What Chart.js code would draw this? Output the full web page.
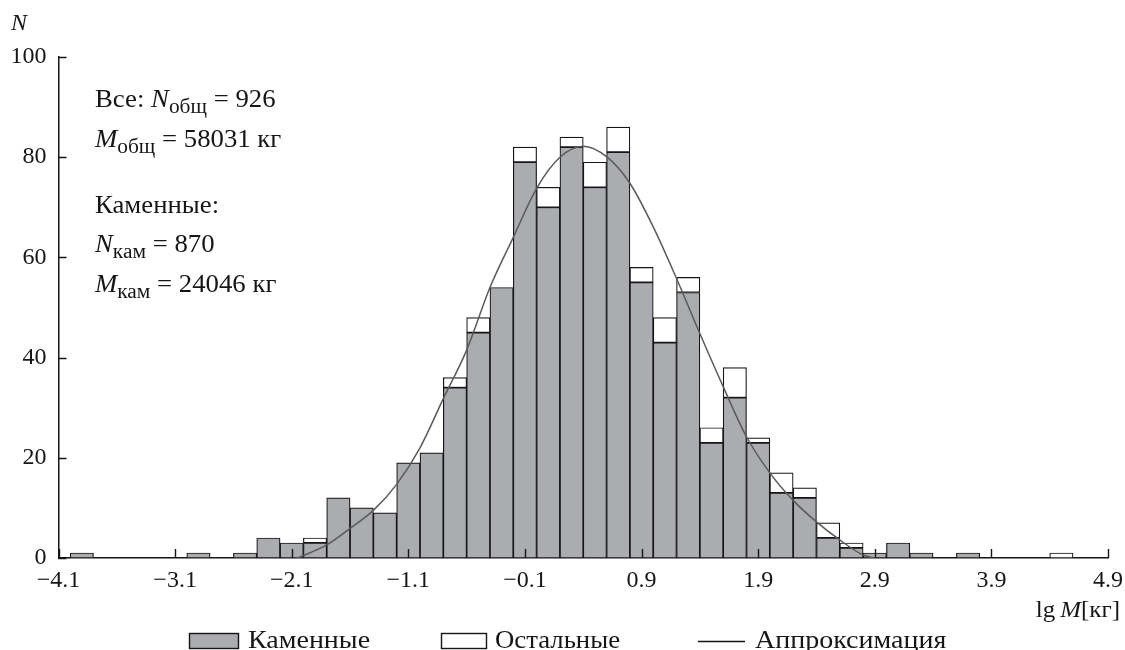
<!DOCTYPE html>
<html>
<head>
<meta charset="utf-8">
<script src="https://cdn.jsdelivr.net/npm/chart.js@4.4.1/dist/chart.umd.min.js"></script>
<style>
  html, body { margin: 0; padding: 0; background: #ffffff; }
  #wrap { position: relative; width: 1125px; height: 650px; }
</style>
</head>
<body>
<div id="wrap"><canvas id="chart" width="1125" height="650"></canvas></div>
<script>
// Histogram of lg M (bin width 0.2), bin centres
const binCenters = [-3.9, -3.7, -3.5, -3.3, -3.1, -2.9, -2.7, -2.5, -2.3, -2.1,
                    -1.9, -1.7, -1.5, -1.3, -1.1, -0.9, -0.7, -0.5, -0.3, -0.1,
                     0.1,  0.3,  0.5,  0.7,  0.9,  1.1,  1.3,  1.5,  1.7,  1.9,
                     2.1,  2.3,  2.5,  2.7,  2.9,  3.1,  3.3,  3.5,  3.7,  3.9,
                     4.1,  4.3,  4.5];
// Stony meteorites per bin
const stonyCounts = [1, 0, 0, 0, 0, 1, 0, 1, 4, 3,
                     3, 12, 10, 9, 19, 21, 34, 45, 54, 79,
                     70, 82, 74, 81, 55, 43, 53, 23, 32, 23,
                     13, 12, 4, 2, 1, 3, 1, 0, 1, 0,
                     0, 0, 0];
// All other types per bin (stacked on top)
const otherCounts = [0, 0, 0, 0, 0, 0, 0, 0, 0, 0,
                     1, 0, 0, 0, 0, 0, 2, 3, 0, 3,
                     4, 2, 5, 5, 3, 5, 3, 3, 6, 1,
                     4, 2, 3, 1, 0, 0, 0, 0, 0, 0,
                     0, 0, 1];
// Fitted curve
const fitX = [-2.05, -1.8, -1.6, -1.4, -1.2, -1.0, -0.8, -0.6, -0.4, -0.2,
               0.0,  0.2,  0.4,  0.6,  0.8,  1.0,  1.2,  1.4,  1.6,  1.8,
               2.0,  2.2,  2.4,  2.6,  2.8,  2.9];
const fitY = [0, 2.6, 5.9, 9.5, 14.7, 22, 31.8, 41.5, 54, 64,
              73.8, 80, 82.2, 80.1, 74.8, 66.1, 55.8, 44.8, 34.2, 24.2,
              17, 11.5, 7.2, 3.6, 0.6, 0];
const xTickValues = [-4.1, -3.1, -2.1, -1.1, -0.1, 0.9, 1.9, 2.9, 3.9, 4.9];
const yTickValues = [0, 20, 40, 60, 80, 100];

const SERIF = "'Liberation Serif', 'DejaVu Serif', serif";
const INK = '#161616';
const STONY_FILL = '#abacb0';

function fmtTick(v) {
  const s = Math.abs(v).toFixed(1);
  return v < 0 ? '\u2212' + s : s;
}

// Draws a line of mixed text: [text, kind] with kind '', 'i' (italic), 's' (subscript).
// sx widens the glyphs horizontally.
function drawRich(ctx, x, y, parts, size, sx) {
  sx = sx || 1;
  ctx.save();
  ctx.translate(x, y);
  ctx.scale(sx, 1);
  let cx = 0;
  for (const [t, kind] of parts) {
    let fs = size, dy = 0, st = '';
    if (kind === 'i') st = 'italic ';
    if (kind === 's') { fs = Math.round(size * 0.78); dy = 6; }
    ctx.font = st + fs + 'px ' + SERIF;
    ctx.fillText(t, cx, dy);
    cx += ctx.measureText(t).width;
  }
  ctx.restore();
  return cx * sx;
}

function richWidth(ctx, parts, size, sx) {
  let w = 0;
  for (const [t, kind] of parts) {
    let fs = size, st = '';
    if (kind === 'i') st = 'italic ';
    if (kind === 's') fs = Math.round(size * 0.78);
    ctx.font = st + fs + 'px ' + SERIF;
    w += ctx.measureText(t).width;
  }
  return w * (sx || 1);
}

const decor = {
  id: 'decor',
  afterDatasetsDraw(chart) {
    const ctx = chart.ctx;
    const xs = chart.scales.x, ys = chart.scales.y;
    const area = chart.chartArea;
    ctx.save();
    ctx.strokeStyle = INK;
    ctx.lineWidth = 1.4;
    ctx.beginPath();
    for (const v of yTickValues) {
      const py = Math.round(ys.getPixelForValue(v)) + 0.5;
      ctx.moveTo(area.left, py);
      ctx.lineTo(area.left + 8, py);
    }
    for (const v of xTickValues) {
      const px = Math.round(xs.getPixelForValue(v)) + 0.5;
      ctx.moveTo(px, area.bottom);
      ctx.lineTo(px, area.bottom - 9);
    }
    ctx.stroke();
    ctx.restore();
  },
  afterDraw(chart) {
    const ctx = chart.ctx;
    ctx.save();
    ctx.fillStyle = INK;
    ctx.textBaseline = 'alphabetic';
    ctx.textAlign = 'left';
    const fs = 25, sx = 1.07;

    // axis titles
    ctx.font = 'italic 24px ' + SERIF;
    ctx.fillText('N', 11, 30);
    const xt = [['lg', ''], ['\u2009M', 'i'], ['[\u043a\u0433]', '']];
    drawRich(ctx, 1120 - richWidth(ctx, xt, 24, 1.04), 617, xt, 24, 1.04);

    // summary block
    drawRich(ctx, 95, 107, [['Все: ', ''], ['N', 'i'], ['общ', 's'], [' = 926', '']], fs, sx);
    drawRich(ctx, 95, 147, [['M', 'i'], ['общ', 's'], [' = 58031 кг', '']], fs, sx);
    drawRich(ctx, 95, 213, [['Каменные:', '']], fs, sx);
    drawRich(ctx, 95, 252, [['N', 'i'], ['кам', 's'], [' = 870', '']], fs, sx);
    drawRich(ctx, 95, 292, [['M', 'i'], ['кам', 's'], [' = 24046 кг', '']], fs, sx);

    // legend
    const ds = chart.data.datasets;
    ctx.lineWidth = 1.4;
    ctx.strokeStyle = INK;
    ctx.fillStyle = ds[0].backgroundColor;
    ctx.fillRect(189.5, 633.5, 49, 15);
    ctx.strokeRect(189.5, 633.5, 49, 15);
    ctx.fillStyle = ds[1].backgroundColor;
    ctx.fillRect(441.5, 633.5, 45, 15);
    ctx.strokeRect(441.5, 633.5, 45, 15);
    ctx.beginPath();
    ctx.moveTo(698, 641.5);
    ctx.lineTo(745, 641.5);
    ctx.stroke();
    ctx.fillStyle = INK;
    drawRich(ctx, 248, 648, [[ds[0].label, '']], fs, 1.12);
    drawRich(ctx, 495, 648, [[ds[1].label, '']], fs, 1.07);
    drawRich(ctx, 755, 648, [[ds[2].label, '']], fs, 1.12);
    ctx.restore();
  }
};

new Chart(document.getElementById('chart'), {
  type: 'bar',
  data: {
    datasets: [
      {
        label: 'Каменные',
        data: binCenters.map((x, i) => ({ x, y: stonyCounts[i] })),
        backgroundColor: STONY_FILL,
        borderColor: INK,
        borderWidth: 1.2,
        borderSkipped: false,
        barPercentage: 1,
        categoryPercentage: 1,
        stack: 'hist',
        order: 1
      },
      {
        label: 'Остальные',
        data: binCenters.map((x, i) => ({ x, y: otherCounts[i] })),
        backgroundColor: '#ffffff',
        borderColor: INK,
        borderWidth: 1.2,
        borderSkipped: false,
        barPercentage: 1,
        categoryPercentage: 1,
        stack: 'hist',
        order: 1
      },
      {
        type: 'line',
        label: 'Аппроксимация',
        data: fitX.map((x, i) => ({ x, y: fitY[i] })),
        borderColor: '#5a5a5a',
        borderWidth: 1.5,
        pointRadius: 0,
        cubicInterpolationMode: 'monotone',
        fill: false,
        stack: 'fit',
        order: 0
      }
    ]
  },
  options: {
    responsive: false,
    devicePixelRatio: 1,
    animation: false,
    events: [],
    layout: { padding: { left: 0, right: 17, top: 57, bottom: 0 } },
    plugins: { legend: { display: false }, tooltip: { enabled: false } },
    scales: {
      x: {
        type: 'linear',
        offset: false,
        stacked: true,
        min: -4.1,
        max: 4.9,
        afterBuildTicks: (s) => { s.ticks = xTickValues.map(v => ({ value: v })); },
        afterFit: (s) => { s.height = 92; },
        grid: { display: false, offset: false },
        border: { display: true, color: INK, width: 1.5 },
        ticks: {
          autoSkip: false,
          maxRotation: 0,
          padding: 0,
          color: INK,
          font: { family: SERIF, size: 24 },
          callback: (v) => fmtTick(v)
        }
      },
      y: {
        type: 'linear',
        stacked: true,
        min: 0,
        max: 100,
        afterBuildTicks: (s) => { s.ticks = yTickValues.map(v => ({ value: v })); },
        afterFit: (s) => { s.width = 58.5; },
        grid: { display: false },
        border: { display: true, color: INK, width: 1.5 },
        ticks: {
          padding: 4,
          color: INK,
          font: { family: SERIF, size: 24 },
          callback: (v) => String(v)
        }
      }
    }
  },
  plugins: [decor]
});
</script>
</body>
</html>
